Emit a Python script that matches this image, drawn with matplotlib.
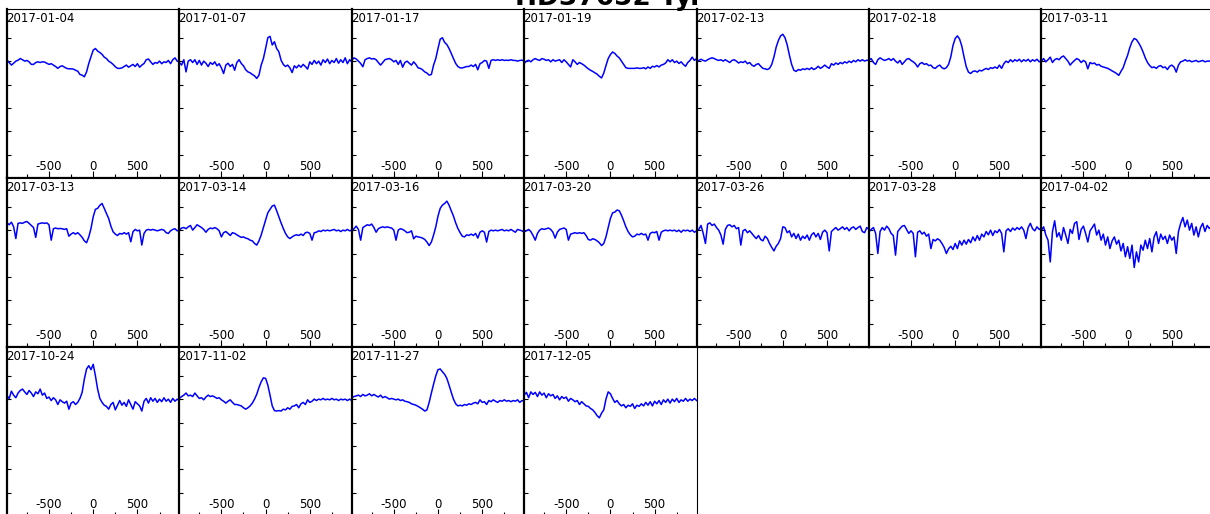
import numpy as np
import matplotlib
matplotlib.use("Agg")
import matplotlib.pyplot as plt
from matplotlib.ticker import MultipleLocator

plt.rcParams["axes.unicode_minus"] = False
plt.rcParams["font.family"] = "DejaVu Sans"

TITLE = "HD37652 Ty."

DATES = [
    "2017-01-04", "2017-01-07", "2017-01-17", "2017-01-19", "2017-02-13",
    "2017-02-18", "2017-03-11", "2017-03-13", "2017-03-14", "2017-03-16",
    "2017-03-20", "2017-03-26", "2017-03-28", "2017-04-02", "2017-10-24",
    "2017-11-02", "2017-11-27", "2017-12-05",
]

# flux minus continuum, in per cent, sampled evenly from -975 to +975 km/s
p_0104 = [0.4, -0.6, -1.7, -0.9, 0, 0.4, 1.1, 0.6, 0, 0.3, -0.3, -1.4, -1.4, -0.6, -0.3, -0.6, -0.3, -0.4, -0.9, -1.4,
          -1.1, -1.7, -2.3, -3.1, -2.3, -2, -2.6, -3.1, -3.3, -3.3, -3.4, -3.9, -4.3, -5.7, -6, -6.7, -4.6, -1, 1.9, 4.7,
          5.4, 4.3, 3.7, 2.9, 1.7, 1.1, 0, -0.6, -1.4, -2.4, -3.1, -3.1, -2.9, -2.3, -1.7, -2.6, -2, -1.4, -2.3, -1.1,
          -2.6, -1.7, -1, 0.6, 0.9, -0.3, -1.4, -0.6, -0.9, 0, -1.1, -0.3, -0.6, 0.3, -1.1, 0.6, 1.4, 0, -0.3]
p_0107 = [-0.6, -1.7, 0.6, -4.6, 0, 0.6, -0.6, 0.6, -1.4, 0.3, -1.7, 0, -0.9, -2.3, -0.6, -1.4, -0.3, -2, -1.1, -2.9,
          -5.3, -1.7, -0.9, -2.3, -1.4, -3.9, -0.6, 0.6, -1, -2, -3.7, -4.6, -5, -5.7, -6.3, -7.4, -6, -1.7, 1.1, 5.4,
          10, 10.6, 6.9, 8.3, 5.4, 4, 0.4, -1.4, -2.3, -1.7, -2.9, -4.9, -2, -2.9, -1.7, -2.6, -1.4, -2.3, -3.4, -0.3,
          -1.4, 0.3, -1.1, 0, -1.7, 0.6, -0.6, 0.9, -1.1, 0.3, -0.6, 1.1, -0.9, 0.6, -0.6, 1.4, -1.1, 0.6, -0.3]
p_0117 = [0.4, 1.4, 0.9, 0, -1, -2.4, 0.6, 1.1, 1.4, 0.9, 1.1, 0.6, -0.6, -1.7, -0.6, 0.6, 0.9, 1.1, 0.6, -0.3,
          0.3, -1.4, 0.3, -2.6, -0.6, 0, -0.9, -1.7, -0.3, -1.4, -2.9, -3.1, -3.7, -4.6, -5.1, -6, -5.7, -1.7, 1.1, 5.4,
          9.4, 10, 8, 7.1, 5.4, 3.3, 1.1, -1, -2.3, -2.9, -2.9, -2.6, -2.3, -2.3, -1.7, -2.3, -1.4, -3.7, -1.1, -0.6,
          0.3, 0, -3.1, 0.3, 0.6, 0.3, 0.6, 0.3, 0.6, 0.3, 0.4, 0.3, 0.6, 0.3, 0.3, 0, 0.3, 0.4, 0.1]
p_0119 = [-1, 0, 0.4, -0.3, 0.6, 1.1, 0.6, 0.3, 1.1, 0.8, 0.3, 0.6, -0.3, 0.6, 0, 0.3, 0.6, -0.6, 0.6, -0.3,
          -1.4, -2.5, 0.6, -0.3, -1.4, -0.6, -1.1, -1.7, -2.5, -3.3, -3.9, -4.4, -5, -5.6, -6.5, -7.2, -5.1, -1.9, 1.1, 2.8,
          3.9, 3.3, 2.2, 1.4, 0, -1.4, -2.8, -3.1, -3.1, -3.1, -3.1, -2.9, -3.1, -3.1, -2.8, -3.3, -2.5, -3.1, -2.2, -2.5,
          -1.9, -2.5, -1.7, -1.4, -0.8, 0.6, -0.3, 0.6, -0.6, 0, -1, -0.3, -1.4, -2.2, -0.6, 0.3, 1.7, 0.3, 1.1]
p_0213 = [-0.6, 0.3, 0.8, 0.3, 0, 0.6, 1.1, 1.4, 1.1, 0.6, 0.3, 0.6, 0, 0.6, 0, -0.6, 0.3, 0.6, 0, -0.8,
          -0.3, -0.6, 0, -1.1, -0.6, -1.7, -2.2, -1.4, -1.1, -2.2, -3.1, -3.3, -3.6, -3.1, -1.4, 1.8, 6, 8.8, 10.8, 11.5,
          10, 6.9, 2.5, -1.4, -3.9, -4.4, -3.6, -3.9, -3.3, -3.6, -3.1, -3.6, -2.8, -3.6, -3.1, -2.2, -3.1, -2.5, -1.7, -2.5,
          -3.1, -1.1, -1.7, -0.8, -1.4, -0.6, -1.1, -0.3, -0.8, 0, -0.6, 0.3, -0.3, 0.6, 0, 0.6, 0, 0.4, 0.3]
p_0218 = [0.3, 1.1, -0.6, -1.4, 0.6, 1.4, 0.8, 0.3, 0.6, 1.1, 0.3, 1.1, 0, -0.8, 0.3, -1.4, -0.3, 0.8, 1.1, 0.3,
          -0.3, -1.1, -2.5, -1.1, -0.6, -1.4, -1.1, -1.9, -1.7, -2.8, -3.1, -2.2, -1.7, -2.8, -3.3, -2.8, -1.4, 1.8, 6.7, 9.7,
          10.8, 9.4, 6.4, 1.8, -2.4, -4.7, -5.3, -4.4, -4.2, -4.7, -3.9, -4.2, -3.6, -3.1, -3.6, -2.8, -3.1, -2.5, -3.1, -1.7,
          -3.1, -1.1, 0, -0.6, 0.6, -0.3, 0.6, 0, 0.8, -0.3, 0.6, 0, 0.8, -0.3, 0.6, 0, 0.8, -0.3, 0.3]
p_0311 = [0, 1.1, -0.3, 0.6, 1.7, -0.6, 0.6, 1.1, 0.6, 1.7, 2.2, 1.1, 0, -1.7, -0.6, 0.3, 1.1, 0.6, -0.6, 0.3,
          -0.3, -3.3, -0.6, -1.1, -0.8, -1.7, -1.4, -2.2, -2.5, -2.8, -3.1, -3.6, -4.2, -4.7, -5.3, -6.1, -4.4, -2.8, 0, 2.5,
          5.8, 8.3, 9.7, 9.2, 7.8, 6.1, 3.9, 1.4, -0.6, -1.9, -2.8, -2.5, -3.1, -2.2, -1.9, -2.8, -2.5, -3.6, -2.2, -1.7,
          -2.5, -4.7, -1.7, -0.3, 0, 0.6, 0, 0.3, -0.3, 0, 0.3, -0.3, 0, 0.3, -0.3, 0, 0, 0.3, 0]
p_0313 = [3.1, 2.3, 3.4, 1.4, -3.6, 2.9, 3.1, 2.9, 3.4, 3.7, 2.9, 2, 1.1, -3.1, 2.6, 2.9, 3.1, 2.9, 3.1, 2.3,
          -4.3, 0.6, 0.9, 0.6, 0.7, 0.6, 0.3, 0.6, -2.6, -1.7, -1.1, -1.7, -1.1, -2, -3.1, -4.6, -5.4, -2.9, 0.7, 5.7,
          8.9, 9.3, 10.6, 11.4, 9.3, 7.1, 5, 1.7, -0.7, -1.7, -2.3, -1.4, -1.7, -1.1, -1.7, -1.1, -5, -0.7, 0.3, -0.3,
          0, -6.4, -1.4, 0, 0.3, 0, 0.3, 0, -0.3, 0, 0.3, 0, -1.1, -1.4, -0.3, 0.3, 0.6, -0.3, 0]
p_0314 = [0, 0.9, 1.1, 0.6, 1.4, 2, 0, 1.1, 2.3, 1.7, 1.1, 0.3, -0.9, 0.3, 0.9, 0.6, 1.1, 0.6, -0.3, -2.9,
          -1.1, -0.6, -1.4, -2.3, -1.1, -1.4, -2, -2.6, -3.1, -2.9, -3.4, -3.7, -4.3, -4.6, -5.7, -6.4, -4.6, -2.1, 1.1, 4.3,
          7.4, 8.9, 10.3, 10.7, 8.3, 5.7, 3.1, 0.7, -1.4, -2.9, -3.6, -2.9, -2.3, -2, -2.3, -1.7, -2.3, -1.1, -0.9, -1.4,
          -4.3, -1.1, -0.9, -0.3, -0.6, 0, -0.3, 0, -0.3, 0, 0.3, -0.3, 0, -0.6, 0, -0.3, 0.3, -0.3, 0]
p_0316 = [-0.7, 0.6, 1.7, 0.3, -4.3, 1.1, 1.7, 2.3, 2, 2.6, 1.1, -0.9, 0.6, 1.1, 1.4, 1.1, 1.4, 1.1, 0.9, 0,
          -4.3, 0, 0.6, 0.3, -0.3, -1.1, -0.9, -0.3, -3.7, -2.6, -2.9, -3.1, -3.4, -4, -5.1, -6.6, -5.1, -2.1, 1.4, 6,
          9.3, 10.7, 11.4, 12.4, 10.7, 8.3, 6, 3.1, 0.7, -1.1, -2.6, -2.9, -2, -2.3, -1.7, -2.3, -1.4, -3.4, -0.9, -0.3,
          -0.9, -5.1, -0.6, 0, -0.3, 0, -0.3, 0, 0.3, -0.3, 0, -0.3, 0.3, -0.3, -0.9, 0.3, 0, -0.3, -0.9]
p_0320 = [-0.7, -0.3, 0.3, -0.6, -2.3, -4.3, -1.4, 0, 0.6, 0.3, 0.6, 0.9, 0.3, -0.9, -3.4, -0.9, 0.3, 0.6, 0.9, 0.3,
          -4.3, -1.7, -1.4, -1.1, -1.4, -1.1, -1.4, -1.1, -2.3, -4, -4.3, -3.7, -4, -4.6, -5.4, -6.6, -5.7, -2.9, 1.1, 5,
          7.4, 7.7, 8.6, 8.3, 6.4, 4, 1.4, -0.6, -2, -2.9, -2.6, -1.7, -2, -1.4, -2, -1.7, -4.3, -1.4, -0.9, -1.1,
          -0.6, -4.3, -0.9, -0.3, 0, -0.3, 0, -0.3, 0, -0.6, 0, -0.9, 0, -0.3, 0, -0.6, 0, -0.9, -0.3]
p_0326 = [-0.3, 0.3, 2, -1.4, -5.7, 2.6, 3.1, 2, 2.6, 1.1, 0, -2.1, -6, 0.3, 2, 2.3, 1.4, 2, 0.6, 1.1,
          -6.4, -0.3, 0.3, -1.1, -0.3, -1.4, -2.6, -3.6, -2.3, -4, -4.6, -2.6, -3.6, -5.7, -7.4, -8.9, -6.9, -5.7, -3.6, 1.4,
          1.1, -1.1, -0.3, -2.9, -1.4, -3.6, -1.7, -4.3, -2.6, -3.6, -2.1, -4.3, -2, -1.1, -2.9, -1.4, -4, -0.9, 0, -1.1,
          -8.9, -0.6, 0.3, 1.1, 0, 0.6, 1.4, 0.3, 1.1, -0.3, 0.9, 1.4, 0.3, 1.1, 1.7, -0.6, -1.1, 1.1, 0.3]
p_0328 = [-0.7, 0.3, 1.1, -1.4, -10, -0.6, 1.1, 0, 1.7, 0.6, -1.4, -2.3, -10.7, -0.6, 0.6, 1.7, 2, 0.3, -1.4, -0.3,
          -1.4, -11.4, -0.9, -0.3, -1.7, -0.9, -2.6, -1.7, -7.9, -4, -4.6, -3.7, -4.3, -5.7, -7.4, -10, -8, -6.9, -8.3, -5.7,
          -7.9, -4.6, -6.4, -4.3, -6, -4, -5.4, -2.9, -4.6, -2.3, -4.3, -1.7, -2.9, -0.6, -2, 0, -2.3, -0.3, -1.1, 0.3,
          -1.4, -9.3, -0.3, 0.6, -0.6, 0.9, 0, 1.1, 0.3, 1.4, 0, -3.6, 1.1, 2.9, 0.6, -0.3, 1.4, 0.3, 0.9]
p_0402 = [0, 1.4, -2.1, -4.3, -13.6, -0.7, 4, -2.9, -1.1, -4.3, 1.1, -2.1, -5.7, 0.3, -1.4, 2.9, 3.6, -4, 0.3, 1.7,
          -1.4, -5.1, -0.3, 1.1, 2.6, -2.1, 0, -4.3, -1.7, -6.4, -2.9, -7.9, -4.6, -2.9, -6, -4.3, -8.9, -5.7, -11.4, -7.1,
          -12.1, -6.4, -16, -9.3, -13.6, -6.4, -8.6, -4.3, -7.9, -3.6, -9.3, -2.9, -0.7, -5.7, -1.7, -4, -2.6, -5.7, -2.1, -4.3,
          -2.9, -10, -0.7, 2.9, 5.4, 1.4, 4.3, 0, 2.9, -2.1, 1.4, -2.9, 1.1, 2.9, -0.6, 2, 0.7, 1.7, 0.3]
p_1024 = [1.4, 0.3, 3.4, 1.7, 0.6, 2.6, 3.7, 4.3, 3.1, 2, 3.7, 2.6, 1.1, 3.1, 2.3, 4.3, 1.7, 2.6, 0.3, 0.9,
          -0.6, 0.6, -0.3, -2.3, -0.3, -1.1, -1.7, -0.9, -4.3, -1.7, -1.1, -2.3, -1.4, 0.3, 2.9, 8.6, 12.9, 14.3, 12.6, 14.9,
          10, 4.3, 0.3, -1.4, -2.6, -3.1, -4.3, -2.3, -1.4, -4.6, -2.6, -0.6, -2.6, -1.4, -3.1, -0.3, -2.3, -4.3, -1.1, -2,
          -2.9, -5.1, -0.9, 0.3, -1.7, 0.6, -0.9, 0.3, -1.4, 0, -1.1, 0.6, -0.9, 0, -1.4, 0.3, -0.9, 0, -0.6]
p_1102 = [0.3, 1.1, 1.7, 2.6, 1.4, 1.7, 1.1, 2.6, 1.4, 0.3, 0.6, -0.3, 0.9, 1.7, 1.1, 1.4, 0.9, 0.3, 0.6, -0.3,
          -0.9, -1.7, -0.9, -0.3, -1.4, -2.3, -2.3, -2.6, -2.9, -3.7, -4.3, -3.7, -2.9, -1.7, 0, 2.1, 5, 7.4, 9.1, 8.9,
          6, 1.7, -2.9, -4.9, -5.1, -4.9, -5.1, -4.3, -4.6, -3.7, -4.3, -3.1, -2.9, -2.3, -3.7, -2, -1.4, -2.3, -0.3, -1.4,
          -0.9, 0, -0.6, 0, -0.3, 0.3, -0.3, 0, -0.3, 0.3, -0.3, 0, -0.6, 0, -0.3, 0, -0.6, 0, -0.6]
p_1127 = [0.6, 1.1, 1.4, 1.7, 1.1, 2, 1.4, 1.7, 2.3, 1.4, 2, 1.4, 0.9, 1.7, 0.6, 1.1, 0.6, 0, 0.3, 0,
          -0.3, 0, -0.6, -0.3, -0.9, -1.1, -1.4, -2, -2.3, -2.6, -3.1, -3.7, -4.3, -5.1, -4.6, -1.4, 2.6, 6.4, 10, 12.6,
          12.9, 11.7, 10.6, 8.9, 6, 2.9, 0, -2, -2.9, -2.6, -2.9, -2.3, -2.6, -2, -2.3, -1.7, -1.4, -2, -0.3, -1.4,
          -1.1, -2.3, -0.6, -1.1, -0.3, -0.9, -1.4, -0.6, -0.9, -0.3, -0.9, -0.6, -1.1, -0.6, -0.9, -0.3, -1.4, -0.6, -0.9]
p_1205 = [1.7, 2.9, 0.6, 3.1, 2, 2.9, 1.1, 3.1, 1.7, 2.6, 0.6, 2.3, 1.4, 2, 0.3, 1.4, -0.3, 1.1, 0.3, 0.9,
          -0.9, 0.3, -0.3, -1.1, -0.6, -2.3, -1.1, -2, -2.9, -3.1, -4, -4.6, -5.7, -7.1, -8, -6, -4.6, 0, 3.1, 2.3,
          0.3, -1.4, -0.6, -2, -2.9, -2.3, -3.7, -2.6, -3.1, -2, -4, -2.6, -3.1, -2, -2.9, -1.4, -2.6, -1.1, -2.9, -0.9,
          -2, -0.6, -2.3, -0.3, -1.4, 0, -1.7, 0, -1.1, 0.3, -1.4, -0.3, -0.9, 0.3, -0.9, 0, -0.6, 0.3, -0.6]

SPECTRA = [p_0104, p_0107, p_0117, p_0119, p_0213, p_0218, p_0311, p_0313, p_0314,
           p_0316, p_0320, p_0326, p_0328, p_0402, p_1024, p_1102, p_1127, p_1205]

V_MIN, V_MAX = -975, 975
Y_MIN, Y_MAX = 0.5, 1.223

FIG_W, FIG_H = 1210, 514
COL_W, ROW_H = 172.4, 169.0
X0, Y0 = 7.0, 9.0
NCOLS = 7

fig = plt.figure(figsize=(FIG_W / 100, FIG_H / 100), dpi=100)

for k, (date, dev) in enumerate(zip(DATES, SPECTRA)):
    row, col = divmod(k, NCOLS)
    left = (X0 + col * COL_W) / FIG_W
    bottom = 1 - (Y0 + (row + 1) * ROW_H) / FIG_H
    ax = fig.add_axes((left, bottom, COL_W / FIG_W, ROW_H / FIG_H))

    v = np.linspace(V_MIN, V_MAX, len(dev))
    ax.plot(v, 1 + np.asarray(dev) / 100.0, color="#0000ff", lw=1.1)

    ax.set_xlim(V_MIN, V_MAX)
    ax.set_ylim(Y_MIN, Y_MAX)
    ax.xaxis.set_major_locator(MultipleLocator(500))
    ax.xaxis.set_minor_locator(MultipleLocator(250))
    ax.set_yticks(np.arange(0.6, 1.15, 0.1))
    ax.tick_params(axis="x", which="both", direction="in", pad=-13,
                   labelsize=8.5, width=0.8, color="black")
    ax.tick_params(axis="x", which="major", length=5)
    ax.tick_params(axis="x", which="minor", length=3)
    ax.tick_params(axis="y", direction="in", length=3, width=0.8, labelleft=False)

    for side, lw in (("left", 1.6), ("bottom", 1.6), ("top", 0.8), ("right", 0.8)):
        ax.spines[side].set_linewidth(lw)

    ax.text(-0.005, 0.985, date, transform=ax.transAxes, ha="left", va="top",
            fontsize=8.5, color="black")

fig.text(607 / FIG_W, 1 - 5 / FIG_H, TITLE, ha="center", va="baseline",
         fontsize=19, fontweight="bold")

fig.savefig("out.png", dpi=100)
